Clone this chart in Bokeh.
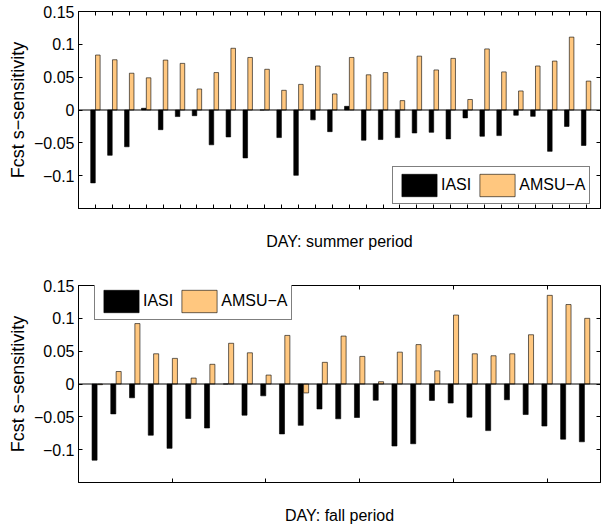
from bokeh.plotting import figure
from bokeh.models import (ColumnDataSource, Range1d, LinearAxis, FixedTicker,
                          Span, Legend, LegendItem, CustomLabelingPolicy)
from bokeh.transform import dodge
from bokeh.layouts import column
from bokeh.embed import file_html
from bokeh.resources import INLINE

# ---------------- data ----------------
summer_days = list(range(1, 31))
summer_iasi = [-0.111, -0.069, -0.056, 0.0026, -0.030, -0.010, -0.0087, -0.053,
               -0.041, -0.073, 0.0, -0.042, -0.0995, -0.015, -0.033, 0.0056,
               -0.046, -0.045, -0.042, -0.035, -0.034, -0.044, -0.012, -0.040,
               -0.039, -0.008, -0.0097, -0.063, -0.025, -0.054]
summer_amsu = [0.0837, 0.0765, 0.056, 0.049, 0.076, 0.071, 0.032, 0.057,
               0.094, 0.080, 0.062, 0.030, 0.039, 0.067, 0.0245, 0.080,
               0.0536, 0.057, 0.0143, 0.082, 0.061, 0.0786, 0.016, 0.093,
               0.058, 0.029, 0.067, 0.0745, 0.111, 0.044]

fall_days = list(range(1, 28))
fall_iasi = [-0.116, -0.0455, -0.021, -0.078, -0.098, -0.0525, -0.067, 0.0,
             -0.0475, -0.018, -0.076, -0.063, -0.038, -0.053, -0.051, -0.0247,
             -0.0944, -0.091, -0.025, -0.029, -0.0505, -0.071, -0.024, -0.0465,
             -0.064, -0.084, -0.088]
fall_amsu = [-0.001, 0.019, 0.092, 0.046, 0.039, 0.009, 0.030, 0.062,
             0.0475, 0.0136, 0.074, -0.0136, 0.033, 0.073, 0.042, 0.0035,
             0.0485, 0.060, 0.020, 0.105, 0.046, 0.043, 0.046, 0.075,
             0.135, 0.121, 0.100]

y_ticks = [-0.1, -0.05, 0, 0.05, 0.1, 0.15]
y_tick_labels = ["\u22120.1", "\u22120.05", "0", "0.05", "0.1", "0.15"]
series_names = ["IASI", "AMSU\u2212A"]
summer_xlabel = "DAY: summer period"
fall_xlabel = "DAY: fall period"
y_label = "Fcst s\u2212sensitivity"
summer_xticks = summer_days
fall_xticks = [5, 10, 15, 20, 25]

FONT = "Liberation Sans"
BLACK = "#000000"
ORANGE = "#FFC77F"

NO_LABELS = "for (const i of indices) { indices.unset(i) }\nreturn indices"


def ticks_only(axis, ticks):
    axis.ticker = FixedTicker(ticks=ticks)
    axis.major_label_text_font_size = "0px"
    axis.major_label_standoff = 0
    axis.major_label_policy = CustomLabelingPolicy(code=NO_LABELS)
    axis.major_tick_in = 4
    axis.major_tick_out = 0
    axis.minor_tick_in = 0
    axis.minor_tick_out = 0
    axis.axis_line_color = BLACK
    axis.major_tick_line_color = BLACK


def make_panel(days, iasi, amsu, xlabel, x_end, xticks, legend_loc,
               height, border_top, border_bottom):
    src = ColumnDataSource(dict(day=days, iasi=iasi, amsu=amsu))
    p = figure(width=601, height=height, x_range=Range1d(0, x_end),
               y_range=Range1d(-0.15, 0.15), output_backend="svg",
               toolbar_location=None, min_border_left=78, min_border_right=1,
               min_border_top=border_top, min_border_bottom=border_bottom,
               background_fill_color="white", border_fill_color="white")
    p.grid.visible = False
    p.outline_line_color = BLACK
    p.outline_line_width = 1

    r1 = p.vbar(x=dodge("day", -0.143, range=p.x_range), width=0.27,
                top="iasi", bottom=0, source=src, fill_color=BLACK,
                line_color=BLACK, line_width=0.6)
    r2 = p.vbar(x=dodge("day", 0.143, range=p.x_range), width=0.27,
                top="amsu", bottom=0, source=src, fill_color=ORANGE,
                line_color=BLACK, line_width=0.6)
    p.add_layout(Span(location=0, dimension="width", line_color=BLACK,
                      line_width=1))

    # bottom x axis (ticks + axis label)
    xa = p.xaxis[0]
    ticks_only(xa, xticks)
    xa.axis_label = xlabel
    xa.axis_label_text_font = FONT
    xa.axis_label_text_font_size = "16px"
    xa.axis_label_text_font_style = "normal"
    xa.axis_label_text_color = BLACK
    xa.axis_label_standoff = 24

    # left y axis
    ya = p.yaxis[0]
    ya.ticker = FixedTicker(ticks=y_ticks)
    ya.major_label_overrides = {t: s for t, s in zip(y_ticks, y_tick_labels)}
    ya.major_label_text_font = FONT
    ya.major_label_text_font_size = "16px"
    ya.major_label_text_color = BLACK
    ya.major_label_standoff = 4
    ya.major_tick_in = 4
    ya.major_tick_out = 0
    ya.minor_tick_in = 0
    ya.minor_tick_out = 0
    ya.axis_label = y_label
    ya.axis_label_text_font = FONT
    ya.axis_label_text_font_size = "18px"
    ya.axis_label_text_font_style = "normal"
    ya.axis_label_text_color = BLACK
    ya.axis_label_standoff = 3
    ya.axis_line_color = BLACK

    # mirrored axes (ticks only)
    top = LinearAxis()
    ticks_only(top, xticks)
    right = LinearAxis()
    ticks_only(right, y_ticks)
    p.add_layout(top, "above")
    p.add_layout(right, "right")

    legend = Legend(items=[LegendItem(label=series_names[0], renderers=[r1]),
                           LegendItem(label=series_names[1], renderers=[r2])],
                    location=legend_loc, orientation="horizontal",
                    glyph_width=44, glyph_height=28, label_standoff=-2,
                    spacing=4, padding=4, margin=0,
                    label_text_font=FONT, label_text_font_size="16px",
                    label_text_color=BLACK, border_line_color=BLACK,
                    border_line_width=1, background_fill_color="white",
                    background_fill_alpha=1.0)
    p.add_layout(legend)
    return p


p1 = make_panel(summer_days, summer_iasi, summer_amsu, summer_xlabel, 30.85,
                summer_xticks, (314, 4), 270, 11, 62)
p2 = make_panel(fall_days, fall_iasi, fall_amsu, fall_xlabel, 27.85,
                fall_xticks, (16, 162), 257, 15, 45)

layout = column(p1, p2)
open("out.html", "w").write(file_html(layout, INLINE))
